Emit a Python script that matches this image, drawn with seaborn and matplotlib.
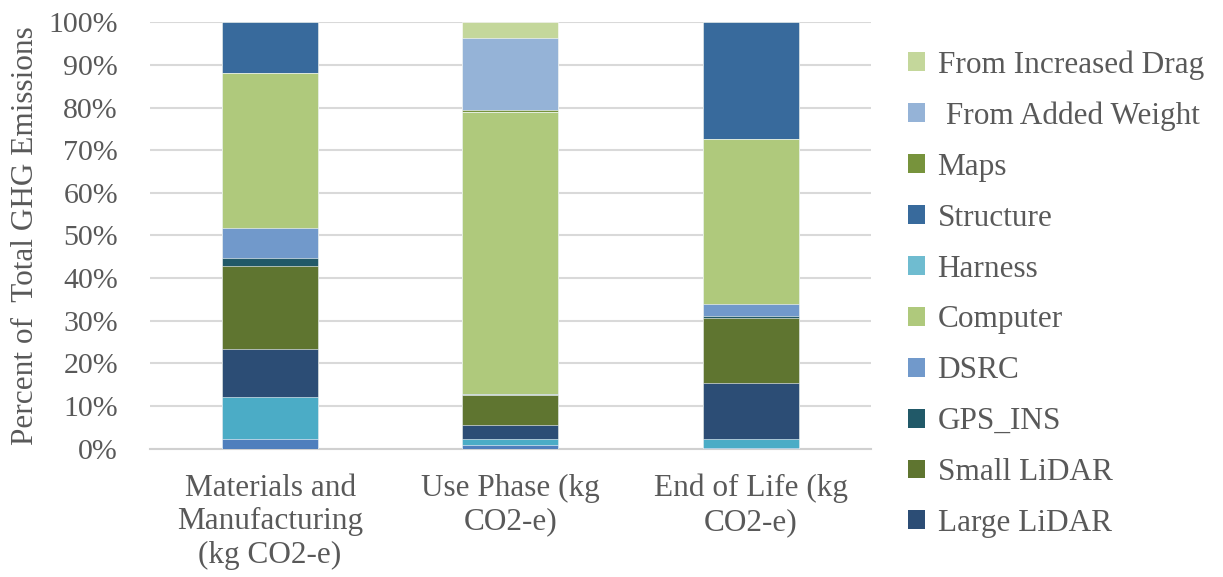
import numpy as np
import pandas as pd
import seaborn as sns
import matplotlib.pyplot as plt
from matplotlib.patches import Patch

# categories along the x axis
phases = ["Materials and\nManufacturing\n(kg CO2-e)", "Use Phase (kg\nCO2-e)", "End of Life (kg\nCO2-e)"]

# share of total GHG emissions (%) per component, stacked bottom -> top
camera = [2.2, 0.85, 0.1]
radar = [10.0, 1.4, 2.1]
large_lidar = [11.1, 3.35, 13.1]
small_lidar = [19.6, 6.9, 15.3]
gps_ins = [1.9, 0.1, 0.6]
dsrc = [7.0, 0.3, 2.7]
computer = [36.2, 66.1, 38.7]
harness = [0.0, 0.0, 0.0]
structure = [12.0, 0.0, 27.4]
maps = [0.0, 0.4, 0.0]
added_weight = [0.0, 17.0, 0.0]
increased_drag = [0.0, 3.6, 0.0]

series = [
    ("Camera", camera, "#4F7FBD", False),
    ("Radar", radar, "#4BACC6", False),
    ("Large LiDAR", large_lidar, "#2C4D75", True),
    ("Small LiDAR", small_lidar, "#5F7530", True),
    ("GPS_INS", gps_ins, "#215968", True),
    ("DSRC", dsrc, "#7199CB", True),
    ("Computer", computer, "#AFC97C", True),
    ("Harness", harness, "#6FBCD0", True),
    ("Structure", structure, "#386A9C", True),
    ("Maps", maps, "#77933C", True),
    (" From Added Weight", added_weight, "#95B3D7", True),
    ("From Increased Drag", increased_drag, "#C4D79B", True),
]

sns.set_style("white")
plt.rcParams['font.family'] = ['Liberation Serif', 'DejaVu Serif']
grey = "#595959"

fig = plt.figure(figsize=(12.23, 5.77), dpi=100)
ax = fig.add_axes([0.1226, 0.2225, 0.5894, 0.7389])

# stacked bars: draw cumulative totals from the top layer down
tops = np.cumsum([np.array(s[1], dtype=float) for s in series], axis=0)
for (name, vals, color, _), top in reversed(list(zip(series, tops))):
    df = pd.DataFrame({"phase": phases, "top": top})
    sns.barplot(data=df, x="phase", y="top", color=color, width=0.4,
                edgecolor="white", linewidth=0.4, saturation=1, ax=ax, zorder=3)

ax.set_ylim(0, 100)
ax.set_xlim(-0.5, 2.5)
ax.set_yticks(np.arange(0, 101, 10))
ax.set_yticklabels([f"{v}%" for v in range(0, 101, 10)])
ax.yaxis.grid(True, color="#D9D9D9", linewidth=1.5, zorder=0)
ax.set_axisbelow(True)
for s in ["left", "right", "top"]:
    ax.spines[s].set_visible(False)
ax.spines["bottom"].set_color("#D0D0D0")
ax.spines["bottom"].set_linewidth(1.5)

ax.set_xticks([0, 1, 2])
ax.set_xticklabels(phases, linespacing=1.21)
ax.set_xticks([-0.5, 0.5, 1.5, 2.5], minor=True)
ax.tick_params(axis="x", which="minor", length=10, width=1.5, color="#D0D0D0", direction="out")
ax.tick_params(axis="x", which="major", length=0, pad=18, labelsize=22.5, labelcolor=grey)
ax.tick_params(axis="y", length=0, pad=23, labelsize=21.5, labelcolor=grey)
ax.set_xlabel("")
ax.set_ylabel("Percent of  Total GHG Emissions", fontsize=22.5, color=grey, labelpad=6)

handles = [Patch(facecolor=c, edgecolor="none", label=n) for n, v, c, show in reversed(series) if show]
fig.legend(handles=handles, loc="upper left", bbox_to_anchor=(0.7193, 0.962), frameon=False,
           fontsize=22.5, labelcolor=grey, handlelength=0.55, handleheight=0.55,
           handletextpad=0.4, labelspacing=0.70)

fig.savefig("out.png", dpi=100)
